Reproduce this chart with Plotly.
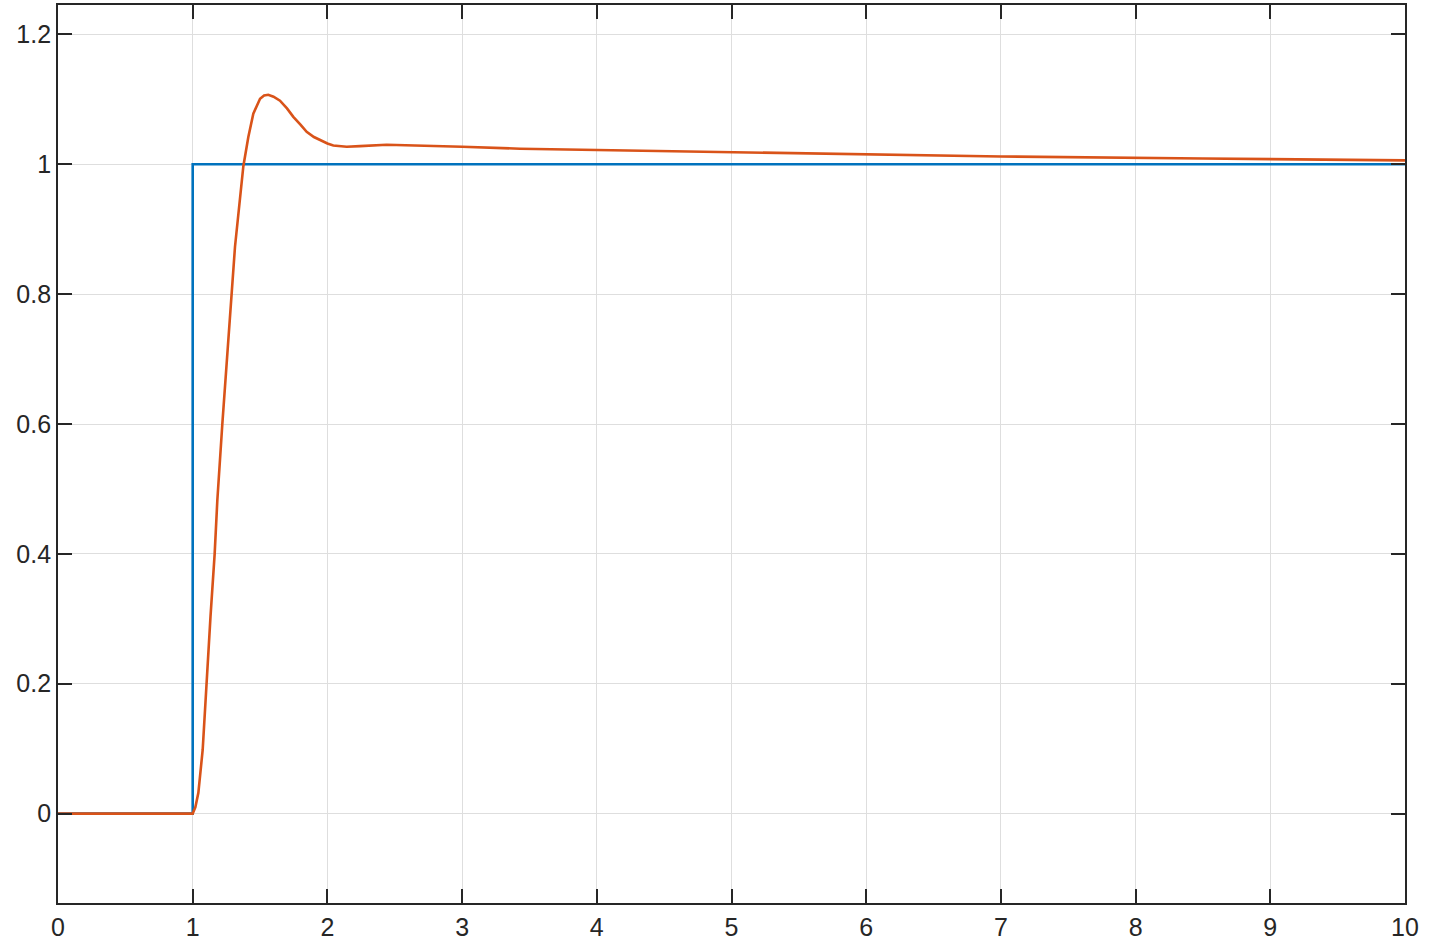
"""
Step response: reference step input vs. closed-loop output.
"""

import plotly.graph_objects as go

# step input (reference)
step_t = [0, 1, 1, 10]
step_y = [0, 0, 1, 1]

# system output
resp_t = [0, 1.0, 1.02, 1.042, 1.074, 1.102, 1.132, 1.163, 1.183, 1.22, 1.277,
          1.314, 1.376, 1.413, 1.45, 1.5, 1.53, 1.561, 1.6, 1.648, 1.7, 1.747,
          1.8, 1.846, 1.9, 1.945, 2.0, 2.044, 2.1, 2.143, 2.242, 2.44, 3.0,
          3.43, 4.0, 5.0, 6.0, 7.0, 8.5, 10.0]
resp_y = [0, 0, 0.01, 0.032, 0.098, 0.2, 0.303, 0.4, 0.483, 0.6, 0.775,
          0.873, 0.997, 1.042, 1.078, 1.101, 1.106, 1.107, 1.104, 1.098, 1.086,
          1.073, 1.061, 1.05, 1.042, 1.037, 1.032, 1.029, 1.0275, 1.027,
          1.028, 1.03, 1.027, 1.024, 1.022, 1.0185, 1.0155, 1.012, 1.009,
          1.006]

x_ticks = list(range(0, 11))
y_ticks = [0, 0.2, 0.4, 0.6, 0.8, 1.0, 1.2]
y_labels = ["0", "0.2", "0.4", "0.6", "0.8", "1", "1.2"]

AXIS_COLOR = "#262626"
GRID_COLOR = "#dedede"

fig = go.Figure()
fig.add_trace(go.Scatter(x=step_t, y=step_y, mode="lines",
                         line=dict(color="#0072BD", width=2.6)))
fig.add_trace(go.Scatter(x=resp_t, y=resp_y, mode="lines",
                         line=dict(color="#D95319", width=2.6)))

axis_common = dict(
    showline=True, linecolor=AXIS_COLOR, linewidth=1.8, mirror="ticks",
    ticks="inside", ticklen=14, tickwidth=1.5, tickcolor=AXIS_COLOR,
    showgrid=True, gridcolor=GRID_COLOR, gridwidth=1, zeroline=False,
    automargin=False,
    tickfont=dict(family="Liberation Sans, Arial", size=25, color=AXIS_COLOR),
)

fig.update_xaxes(range=[0, 10], tickvals=x_ticks, ticklabelstandoff=1,
                 **axis_common)
fig.update_yaxes(range=[-0.1377, 1.2453], tickvals=y_ticks,
                 ticktext=y_labels, ticklabelstandoff=0, **axis_common)

fig.update_layout(
    width=1435, height=943,
    margin=dict(l=58, r=30, t=5, b=40),
    plot_bgcolor="white", paper_bgcolor="white",
    showlegend=False,
)

# drop the browser's default body margin so the figure sits at the corner
fig.write_html("out.html", config={"displayModeBar": False},
               post_script="document.body.style.margin='0';")
